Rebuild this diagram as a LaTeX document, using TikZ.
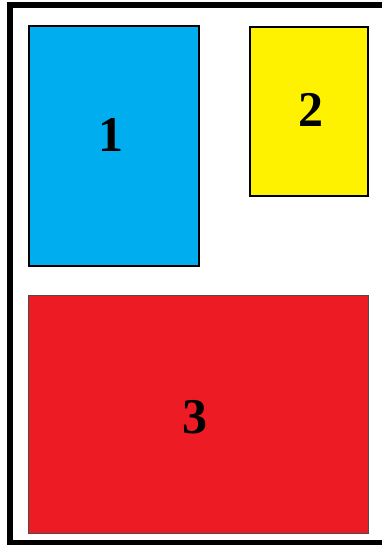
\documentclass[tikz,border=0pt]{standalone}
\usepackage{fontspec}
\setmainfont{Liberation Serif}
\definecolor{cblue}{RGB}{0,174,239}
\definecolor{cyellow}{RGB}{255,242,0}
\definecolor{cred}{RGB}{237,28,36}
\begin{document}
\begin{tikzpicture}[x=1pt,y=-1pt,
  box/.style={draw=black,line width=2pt},
  lbl/.style={font=\fontsize{50}{50}\selectfont\bfseries},
]
\useasboundingbox (0,0) rectangle (382,545);
\begin{scope}
\clip (0,0) rectangle (382,545);
\draw[line width=6pt] (10,5.5) rectangle (395,543);
\end{scope}
\draw[box,fill=cblue] (28.5,26.5) rectangle (198.5,265.5);
\draw[box,fill=cyellow] (249.5,27.5) rectangle (367.5,196.5);
\draw[draw=black!70,line width=1pt,fill=cred] (28,295.5) rectangle (368,533.5);
\node[lbl] (n1) at (111,135) {1};
\node[lbl] (n2) at (311,110) {2};
\node[lbl] (n3) at (195,417) {3};
\end{tikzpicture}
\end{document}
